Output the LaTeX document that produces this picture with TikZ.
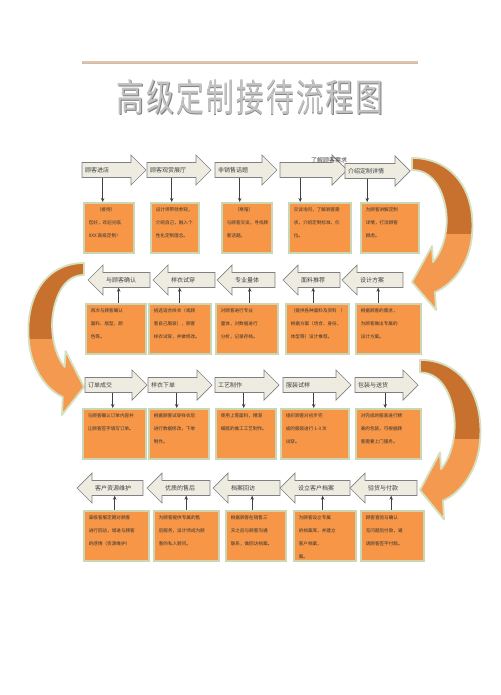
\documentclass[tikz,border=0pt]{standalone}
\usepackage{graphicx}
\usepackage{fontspec}
\newfontfamily\cjk{Noto Sans CJK SC}
\usetikzlibrary{arrows.meta,calc}

\definecolor{boxorange}{HTML}{F79646}
\definecolor{boxedge}{HTML}{CBD6B2}
\definecolor{flowfill}{HTML}{EEECE1}
\definecolor{flowline}{HTML}{808080}
\definecolor{benddark}{HTML}{C8712F}
\definecolor{bendlight}{HTML}{F49A50}
\definecolor{bendedge}{HTML}{D5E0BE}
\definecolor{titleline}{HTML}{EBC09E}

\tikzset{
    flowshape/.style={fill=flowfill, draw=flowline, line width=0.7pt, line join=miter},
    flowtext/.style={inner xsep=3pt, inner ysep=0pt, minimum height=15pt, align=left,
        font=\cjk\fontsize{6}{7}\selectfont, text=black!75},
    infobox/.style={anchor=north west, fill=boxorange, draw=boxedge, line width=1.6pt,
        inner sep=5pt, font=\cjk\fontsize{4.6}{13}\selectfont, text=black!80},
    conn/.style={draw=black!75, line width=0.7pt, -{Stealth[length=4pt,width=3.5pt]}},
    bendrim/.style={draw=bendedge, line width=1.8pt, line join=round},
    titlefont/.style={font=\cjk\fontsize{38}{38}\selectfont, inner sep=0pt}
}

% flow arrow pointing right: name, body left, body right, y, label
\newcommand{\rflow}[5]{%
    \filldraw[flowshape] (#2,#4-7.5) -- (#3,#4-7.5) -- (#3,#4-15) -- (#3+15,#4)
        -- (#3,#4+15) -- (#3,#4+7.5) -- (#2,#4+7.5) -- cycle;
    \pgfmathsetmacro\flowtw{#3-#2-6}
    \node[flowtext, text width=\flowtw pt, anchor=west] (#1) at (#2,#4) {#5};
}
% flow arrow pointing left
\newcommand{\lflow}[5]{%
    \filldraw[flowshape] (#3,#4-7.5) -- (#2,#4-7.5) -- (#2,#4-15) -- (#2-15,#4)
        -- (#2,#4+15) -- (#2,#4+7.5) -- (#3,#4+7.5) -- cycle;
    \pgfmathsetmacro\flowtw{#3-#2-6}
    \node[flowtext, text width=\flowtw pt, anchor=west] (#1) at (#2,#4) {#5};
}
\newcommand{\infotext}[2]{\parbox[t][40pt][t]{#1pt}{#2}}

% curved turn arrow
\newcommand{\bendpath}{(0,-2) .. controls (40,-2) and (64,30) .. (60,75)
    .. controls (58,102) and (42,124) .. (23,132) -- (24,150) -- (0,122) -- (20,86)
    -- (21,102) .. controls (30,92) and (37,72) .. (34,50)
    .. controls (30,25) and (18,10) .. (0,10) -- cycle}
\newcommand{\bendarrow}[1]{%
    \begin{scope}[#1]
        \fill[bendlight] \bendpath;
        \begin{scope}
            \clip (-5,-10) rectangle (80,73);
            \fill[benddark] \bendpath;
        \end{scope}
        \draw[bendrim] \bendpath;
    \end{scope}}

\newcommand{\titletext}{\scalebox{0.73}[1]{\addfontfeature{LetterSpace=8}高级定制接待流程图}}

\begin{document}
\begin{tikzpicture}[x=1pt, y=-1pt]
\fill[white] (0,0) rectangle (500,695);
\useasboundingbox (0,0) rectangle (500,695);

% title
\draw[line width=2pt, titleline] (82,62) -- (418,62);
\draw[line width=0.8pt, black!25] (82,63.8) -- (418,63.8);
\node[titlefont, text=black!50] (titleshade) at (250.8,97.8) {\titletext};
\node[titlefont, text=black!24] (title) at (250,97) {\titletext};

% turns between rows
\bendarrow{shift={(412,160)}}
\bendarrow{shift={(84,265)}, xscale=-0.92}
\bendarrow{shift={(420,362)}, yscale=1.05}

% row 1
\rflow{a1}{82}{131}{170}{顾客进店}
\rflow{a2}{147}{196}{170}{顾客观赏展厅}
\rflow{a3}{215}{262}{170}{非销售话题}
\rflow{a4}{280}{332}{170}{}
\node[flowtext] (a4note) at (329,160) {了解顾客需求};
\rflow{a5}{345}{395}{171}{介绍定制详情}

\node[infobox] (b1) at (83,202) {\infotext{40}{\hspace*{8pt}（接待）\\您好，欢迎光临\\XXX 高级定制！}};
\node[infobox] (b2) at (150,202) {\infotext{38}{设计师带领参观，\\介绍自己，融入个\\性化定制理念。}};
\node[infobox] (b3) at (221,202) {\infotext{40}{\hspace*{8pt}（寒暄）\\与顾客交谈，寻找顾\\客话题。}};
\node[infobox] (b4) at (288,202) {\infotext{52}{交谈询问，了解顾客需\\求，介绍定制标准、价\\位。}};
\node[infobox] (b5) at (360,202) {\infotext{48}{为顾客讲解定制\\详情，打消顾客\\顾虑。}};

\foreach \a/\b/\s in {a1/b1/-4, a2/b2/0, a3/b3/1, a4/b4/-6, a5/b5/-3}
    \draw[conn] ($(\a.south)+(\s,0)$) -- ($(\a.south |- \b.north)+(\s,0)$);

% row 2
\lflow{c5}{357}{403}{280}{设计方案}
\lflow{c4}{298}{340}{280}{面料推荐}
\lflow{c3}{232}{275}{280}{专业量体}
\lflow{c2}{168}{215}{280}{样衣试穿}
\lflow{c1}{103}{150}{280}{与顾客确认}

\node[infobox] (d1) at (85,303) {\infotext{50}{再次与顾客确认\\面料、版型、颜\\色等。}};
\node[infobox] (d2) at (148,303) {\infotext{52}{挑选适合样衣（或顾\\客自己服装），顾客\\样衣试穿，并做修改。}};
\node[infobox] (d3) at (215,303) {\infotext{52}{对顾客进行专业\\量体，对数据进行\\分析，记录存档。}};
\node[infobox] (d4) at (285,303) {\infotext{53}{\mbox{（提供各种面料及资料\hspace{4pt}）}\\根据方案（场合、身份、\\体型等）设计推荐。}};
\node[infobox] (d5) at (355,303) {\infotext{55}{根据顾客的需求，\\为顾客做出专属的\\设计方案。}};

\foreach \a/\b/\s in {c1/d1/-8, c2/d2/-12, c3/d3/-4, c4/d4/-6, c5/d5/-2}
    \draw[conn] ($(\a.south |- \b.north)+(\s,0)$) -- ($(\a.south)+(\s,0)$);

% row 3
\rflow{e1}{85}{132}{385}{订单成交}
\rflow{e2}{148}{197}{385}{样衣下单}
\rflow{e3}{215}{264}{385}{工艺制作}
\rflow{e4}{283}{336}{385}{服装试样}
\rflow{e5}{355}{403}{385}{包装与送货}

\node[infobox] (f1) at (82,408) {\infotext{53}{与顾客确认订单内容并\\让顾客签字填写订单。}};
\node[infobox] (f2) at (148,408) {\infotext{50}{根据顾客试穿样衣后\\进行数据修改，下单\\制作。}};
\node[infobox] (f3) at (215,408) {\infotext{50}{使用上等面料，精湛\\细腻的做工工艺制作。}};
\node[infobox] (f4) at (280,408) {\infotext{58}{组织顾客对初步完\\成的服装进行 1-3 次\\试穿。}};
\node[infobox] (f5) at (355,408) {\infotext{55}{对完成的服装进行精\\美的包装，可根据顾\\客需要上门服务。}};

\foreach \a/\b/\s in {e1/f1/4, e2/f2/4, e3/f3/4, e4/f4/4, e5/f5/6}
    \draw[conn] ($(\a.south)+(\s,0)$) -- ($(\a.south |- \b.north)+(\s,0)$);

% row 4
\lflow{g5}{365}{417}{488}{验货与付款}
\lflow{g4}{295}{350}{488}{设立客户档案}
\lflow{g3}{228}{280}{488}{档案回访}
\lflow{g2}{162}{210}{488}{优质的售后}
\lflow{g1}{92}{143}{488}{客户资源维护}

\node[infobox] (h1) at (83,510) {\infotext{55}{高级客服定期对顾客\\进行回访，增进与顾客\\的感情（资源维护）}};
\node[infobox] (h2) at (153,510) {\infotext{55}{为顾客提供专属的售\\后服务，设计师成为顾\\客的私人顾问。}};
\node[infobox] (h3) at (225,510) {\infotext{50}{根据顾客在销售三\\天之后与顾客沟通\\联系，做回访档案。}};
\node[infobox] (h4) at (293,510) {\infotext{52}{为顾客设立专属\\的档案库，并建立\\客户档案，\\案。}};
\node[infobox] (h5) at (360,510) {\infotext{53}{顾客查验与确认\\无问题后付款，邀\\请顾客签字付款。}};

\foreach \a/\b/\s in {g1/h1/-3, g2/h2/0, g3/h3/-2, g4/h4/0, g5/h5/0}
    \draw[conn] ($(\a.south |- \b.north)+(\s,0)$) -- ($(\a.south)+(\s,0)$);

\end{tikzpicture}
\end{document}
